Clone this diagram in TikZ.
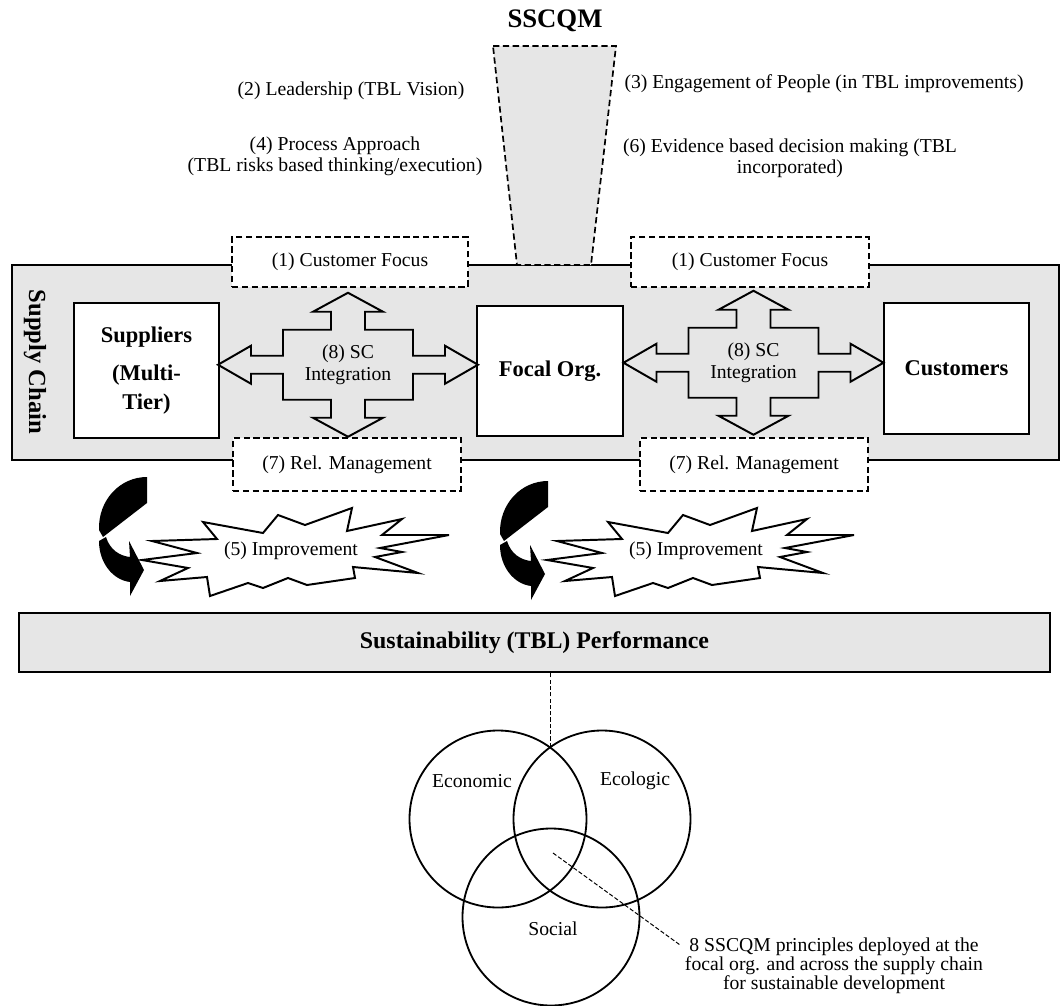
\documentclass[tikz,border=0pt]{standalone}
\usepackage{fontspec}
\setmainfont{Liberation Serif}
\usetikzlibrary{positioning,calc}
\definecolor{panelgray}{RGB}{230,230,230}

\begin{document}
\begin{tikzpicture}
 [x=0.25mm,y=-0.25mm,
% Box and label styles
    chainbox/.style={rectangle,draw,line width=1.4pt,fill=white,align=center,
        font=\fontsize{16}{20.5}\selectfont\bfseries},
    principle/.style={rectangle,draw,line width=1.2pt,dash pattern=on 4.5pt off 2.5pt,
        fill=white,font=\fontsize{14}{16}\selectfont},
    labeltext/.style={align=center,inner sep=0pt,font=\fontsize{14}{15}\selectfont},
    heading/.style={inner sep=0pt,font=\fontsize{#1}{#1}\selectfont\bfseries},
% Shape styles
    panel/.style={rectangle,draw,line width=1pt,fill=panelgray,inner sep=0pt},
    crossarrow/.style={draw,line width=1.4pt,fill=panelgray,line join=miter},
    burst/.style={draw,line width=1.4pt,fill=white,line join=miter},
    swirl/.style={fill=black},
    pillar/.style={draw,line width=1.2pt,dash pattern=on 4.5pt off 2.5pt,fill=panelgray},
    tbl/.style={circle,draw,line width=1.3pt,minimum size=44.25mm,inner sep=0pt},
    leader/.style={draw,line width=0.7pt,dash pattern=on 3pt off 1.5pt}
 ]
\useasboundingbox (0,0) rectangle (1060,1006);

%% Supply chain panel and SSCQM funnel
\node (chain) [panel,minimum width=261.75mm,minimum height=48.75mm] at (535.5,362.5) {};
\node (sclabel) [heading=17.5,rotate=-90] at (35,362) {Supply Chain};
\draw[pillar] (493,46) -- (616,46) -- (591,265) -- (517,265) -- cycle;
\node (sscqm) [heading=19] at (555,21) {SSCQM};

%% Principles around the funnel
\node (lead)   [labeltext] at (351,91)  {(2) Leadership (TBL Vision)};
\node (proc)   [labeltext] at (335,156) {(4) Process Approach\\(TBL risks based thinking/execution)};
\node (engage) [labeltext] at (824,84)  {(3) Engagement of People (in TBL improvements)};
\node (evid)   [labeltext] at (790,158) {(6) Evidence based decision making (TBL\\incorporated)};

%% Principle boxes on the chain
\node (cf1) [principle,minimum width=59mm,minimum height=12.5mm] at (350,262) {(1) Customer Focus};
\node (cf2) [principle,minimum width=59.5mm,minimum height=12.5mm] at (750,262) {(1) Customer Focus};
\node (rm1) [principle,minimum width=57mm,minimum height=13.25mm] at (347,464.5) {(7) Rel. Management};
\node (rm2) [principle,minimum width=57mm,minimum height=13.25mm] at (754,464.5) {(7) Rel. Management};

%% Chain members
\node (sup) [chainbox,minimum width=36.25mm,minimum height=33.75mm] at (146.5,370.5) {Suppliers\\[7pt](Multi-\\Tier)};
\node (foc) [chainbox,minimum width=36.5mm,minimum height=32.5mm] at (550,371) {Focal Org.};
\node (cus) [chainbox,minimum width=36.25mm,minimum height=32.75mm] at (956.5,368.5) {Customers};

%% SC integration arrows
\coordinate (int1) at ($(sup.east)!0.5!(foc.west)+(0,-6)$);
\coordinate (int2) at ($(foc.east)!0.5!(cus.west)+(0,-7)$);
\foreach \c in {int1,int2}
  \draw[crossarrow,shift={(\c)}] (-130,0) -- (-97,-19) -- (-97,-9) -- (-65,-9) -- (-65,-35)
    -- (-17,-35) -- (-17,-53) -- (-35,-53) -- (0,-72) -- (35,-53) -- (17,-53) -- (17,-35)
    -- (65,-35) -- (65,-9) -- (97,-9) -- (97,-19) -- (130,0) -- (97,19) -- (97,9) -- (65,9)
    -- (65,35) -- (17,35) -- (17,53) -- (35,53) -- (0,72) -- (-35,53) -- (-17,53) -- (-17,35)
    -- (-65,35) -- (-65,9) -- (-97,9) -- (-97,19) -- cycle;
\node (sc1) [labeltext] at (int1) {(8) SC\\Integration};
\node (sc2) [labeltext] at (int2) {(8) SC\\Integration};

%% Improvement loops
\foreach \dx/\dy in {0/0,401/4}
 {
  \fill[swirl,shift={(\dx,\dy)}] (147,477) -- (147,503) -- (103,537) -- (99,530)
      .. controls (98,500) and (120,477) .. cycle;
  \fill[swirl,shift={(\dx,\dy)}] (99,541) -- (106,537) .. controls (110,550) and (120,556) .. (130,557)
      -- (129,541) -- (144,570) -- (130,596) -- (130,582) .. controls (113,580) and (99,563) .. cycle;
 }
\foreach \bx in {291,696}
  \draw[burst,shift={(\bx,551)}] (-139,-10) -- (-74,-12) -- (-88,-29) -- (-28,-18) -- (-13,-36)
    -- (14,-26) -- (61,-43) -- (56,-20) -- (111,-32) -- (91,-16) -- (158,-16) -- (89,-3)
    -- (111,1) -- (84,6) -- (127,22) -- (62,16) -- (64,27) -- (16,34) -- (-3,27) -- (-28,37)
    -- (-43,32) -- (-81,45) -- (-84,26) -- (-131,30) -- (-103,17) -- (-149,9) -- (-94,2) -- cycle;
\node (imp1) [labeltext] at (291,551) {(5) Improvement};
\node (imp2) [labeltext] at (696,551) {(5) Improvement};

%% Performance bar and TBL circles
\node (tblbar) [panel,line width=1.6pt,minimum width=257.75mm,minimum height=14.75mm,
    font=\fontsize{17}{20}\selectfont\bfseries] at (534.5,642.5) {Sustainability (TBL) Performance};
\node (econ) [tbl] at (498,819) {};
\node (eco)  [tbl] at (602,819) {};
\node (soc)  [tbl] at (551,917) {};
\node (econlbl) [labeltext] at (472,781) {Economic};
\node (ecolbl)  [labeltext] at (635,781) {Ecologic};
\node (soclbl)  [labeltext] at (553,929) {Social};
\coordinate (meet) at (550,747);
\draw[leader] (meet) -- (meet |- tblbar.south);
\coordinate (core) at (553,853);
\node (note) [labeltext,font=\fontsize{14}{13.5}\selectfont] at (834,966)
    {8 SSCQM principles deployed at the\\focal org. and across the supply chain\\for sustainable development};
\draw[leader] (core) -- ([xshift=-1mm,yshift=-1.9mm]note.north west);
\end{tikzpicture}
\end{document}
